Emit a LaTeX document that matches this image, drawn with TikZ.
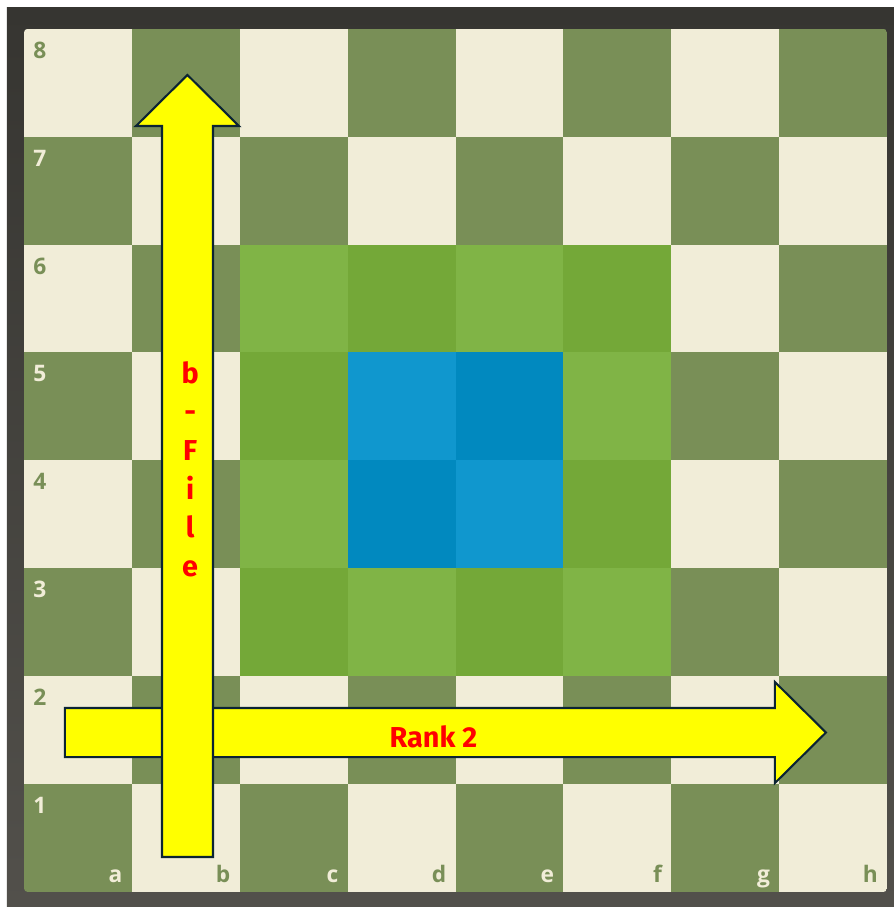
\documentclass[tikz,border=0pt]{standalone}
\usepackage{fontspec}
\setmainfont{Open Sans}
\newfontfamily\arrowfont{Fira Sans}
\definecolor{frametop}{HTML}{363531}
\definecolor{framebottom}{HTML}{52504B}
\definecolor{boardlight}{HTML}{F1EDD8}
\definecolor{boarddark}{HTML}{798F57}
\definecolor{reachlight}{HTML}{80B446}
\definecolor{reachdark}{HTML}{74A838}
\definecolor{centerlight}{HTML}{1097CE}
\definecolor{centerdark}{HTML}{0189BF}
\definecolor{arrowfill}{HTML}{FFFF00}
\definecolor{arrowline}{HTML}{0B2433}
\definecolor{arrowtext}{HTML}{FF0000}

\begin{document}
\begin{tikzpicture}[
  x=1cm,y=1cm,
  arrowshape/.style={fill=arrowfill, draw=arrowline, line width=0.55pt,
    line join=miter},
  coordlabel/.style={inner sep=0pt, font=\fontsize{6}{7}\selectfont\bfseries},
  arrowlabel/.style={inner sep=0pt, text=arrowtext,
    font=\arrowfont\fontsize{7.6}{10.2}\selectfont\bfseries}
]
\useasboundingbox (-0.222,-0.139) rectangle (8.063,8.267);

% Dark frame round the board.
\shade[top color=frametop, bottom color=framebottom]
  (-0.158,-0.139) rectangle (8.063,8.193);

% Squares: a1 is dark.
\begin{scope}
\clip[rounded corners=1pt] (0,0) rectangle (8,8);
\foreach \i in {0,...,7}
  \foreach \j in {0,...,7}{
    \pgfmathtruncatemacro{\odd}{mod(\i+\j,2)}
    \ifnum\odd=1 \fill[boardlight] (\i,\j) rectangle ++(1,1);
    \else \fill[boarddark] (\i,\j) rectangle ++(1,1); \fi
  }
\end{scope}

% Green ring c3--f6, blue centre d4--e5.
\foreach \i in {2,...,5}
  \foreach \j in {2,...,5}{
    \pgfmathtruncatemacro{\odd}{mod(\i+\j,2)}
    \ifnum\odd=1 \fill[reachlight] (\i,\j) rectangle ++(1,1);
    \else \fill[reachdark] (\i,\j) rectangle ++(1,1); \fi
  }
\foreach \i in {3,4}
  \foreach \j in {3,4}{
    \pgfmathtruncatemacro{\odd}{mod(\i+\j,2)}
    \ifnum\odd=1 \fill[centerlight] (\i,\j) rectangle ++(1,1);
    \else \fill[centerdark] (\i,\j) rectangle ++(1,1); \fi
  }

% Rank numbers on the a-file, file letters on rank 1.
\foreach \r in {1,...,8}{
  \pgfmathtruncatemacro{\odd}{mod(\r-1,2)}
  \ifnum\odd=1 \def\labelcol{boarddark}\else \def\labelcol{boardlight}\fi
  \node[coordlabel, anchor=north west, text=\labelcol]
    (rank\r) at (0.08,\r-0.115) {\r};
}
\foreach \f [count=\i from 0] in {a,...,h}{
  \pgfmathtruncatemacro{\odd}{mod(\i,2)}
  \ifnum\odd=1 \def\labelcol{boarddark}\else \def\labelcol{boardlight}\fi
  \node[coordlabel, anchor=base east, text=\labelcol]
    (file\f) at (\i+0.92,0.085) {\f};
}

% Rank arrow under the file arrow.
\draw[arrowshape] (0.38,1.25) -- (6.96,1.25) -- (6.96,1.01)
  -- (7.433,1.478) -- (6.96,1.946) -- (6.96,1.705) -- (0.38,1.705) -- cycle;
\draw[arrowshape] (1.279,0.324) -- (1.752,0.324) -- (1.752,7.099)
  -- (1.993,7.099) -- (1.515,7.572) -- (1.038,7.099) -- (1.279,7.099) -- cycle;

\node[arrowlabel] (ranktext) at (3.795,1.44) {Rank 2};
\node[arrowlabel, align=center] (filetext) at (1.54,3.92)
  {b\\-\\F\\i\\l\\e};

\end{tikzpicture}
\end{document}
